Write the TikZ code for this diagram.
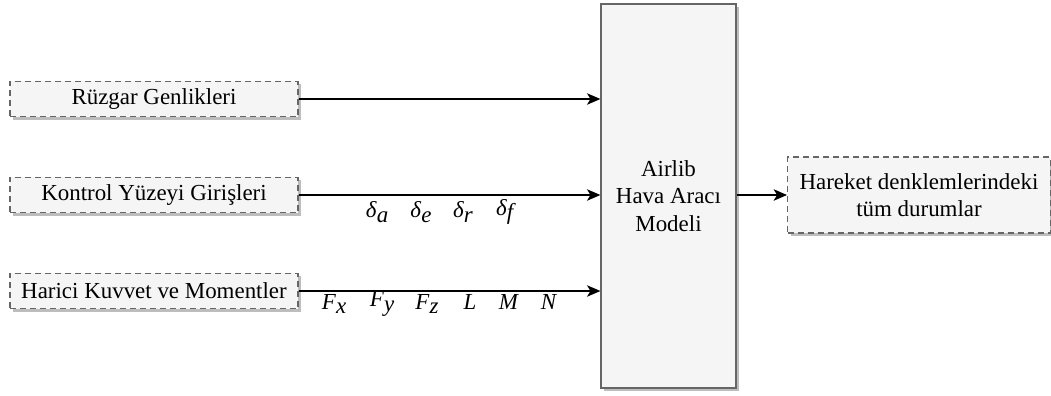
\documentclass[tikz,border=0pt]{standalone}
\usepackage{fontspec}
\setmainfont{Liberation Serif}
\usetikzlibrary{arrows.meta,shadows}

\definecolor{kutudolgu}{HTML}{F5F5F5}
\definecolor{kutucizgi}{HTML}{666666}
\definecolor{golge}{HTML}{BDBDBD}

\newcommand{\isaret}[2]{\textit{#1}\raisebox{-0.45ex}{\textit{#2}}}

\tikzset{
  yazi/.style={font=\fontsize{17.2}{20.5}\selectfont, align=center, inner sep=0pt},
  golgeli/.style={drop shadow={shadow xshift=2.3pt, shadow yshift=-2.3pt, fill=golge, opacity=1}},
  girisbox/.style={yazi, golgeli, draw=kutucizgi, fill=kutudolgu, line width=0.9pt,
    dash pattern=on 4.5pt off 3pt, minimum width=216pt, minimum height=26.5pt},
  modelbox/.style={yazi, golgeli, draw=kutucizgi, fill=kutudolgu, line width=1.1pt,
    minimum width=101pt, minimum height=288pt},
  cikisbox/.style={yazi, golgeli, draw=kutucizgi, fill=kutudolgu, line width=0.9pt,
    dash pattern=on 4.5pt off 3pt, minimum width=197pt, minimum height=57pt},
  ok/.style={line width=1.5pt, -{Stealth[length=10pt, width=8.5pt, inset=2.5pt]}},
  isaretler/.style={yazi}
}

\begin{document}
\begin{tikzpicture}[x=0.75pt, y=-0.75pt]
    \useasboundingbox (0,0) rectangle (1051,396);

    % girişler
    \node[girisbox] (ruzgar) at (154,99) {Rüzgar Genlikleri};
    \node[girisbox] (kontrol) at (154,195) {Kontrol Yüzeyi Girişleri};
    \node[girisbox] (harici) at (154,291) {Harici Kuvvet ve Momentler};

    % model
    \node[modelbox] (model) at (668.5,196) {Airlib\\Hava Aracı\\Modeli};

    % çıkış
    \node[cikisbox] (cikis) at (919,195) {Hareket denklemlerindeki\\tüm durumlar};

    % oklar
    \draw[ok] (ruzgar.east) -- (ruzgar.east -| model.west);
    \draw[ok] (kontrol.east) -- (kontrol.east -| model.west);
    \draw[ok] (harici.east) -- (harici.east -| model.west);
    \draw[ok] (cikis.west -| model.east) -- (cikis.west);

    % kontrol yüzeyi işaretleri
    \node[isaretler] (da) at (377,212) {\isaret{δ}{a}};
    \node[isaretler] (de) at (421,212) {\isaret{δ}{e}};
    \node[isaretler] (dr) at (463,212) {\isaret{δ}{r}};
    \node[isaretler] (df) at (506,212) {\isaret{δ}{f}};

    % kuvvet ve moment işaretleri
    \node[isaretler] (fx) at (334,304) {\isaret{F}{x}};
    \node[isaretler] (fy) at (382,304) {\isaret{F}{y}};
    \node[isaretler] (fz) at (427,304) {\isaret{F}{z}};
    \node[isaretler] (ml) at (470,302) {\textit{L}};
    \node[isaretler] (mm) at (509,302) {\textit{M}};
    \node[isaretler] (mn) at (549,302) {\textit{N}};
\end{tikzpicture}
\end{document}
